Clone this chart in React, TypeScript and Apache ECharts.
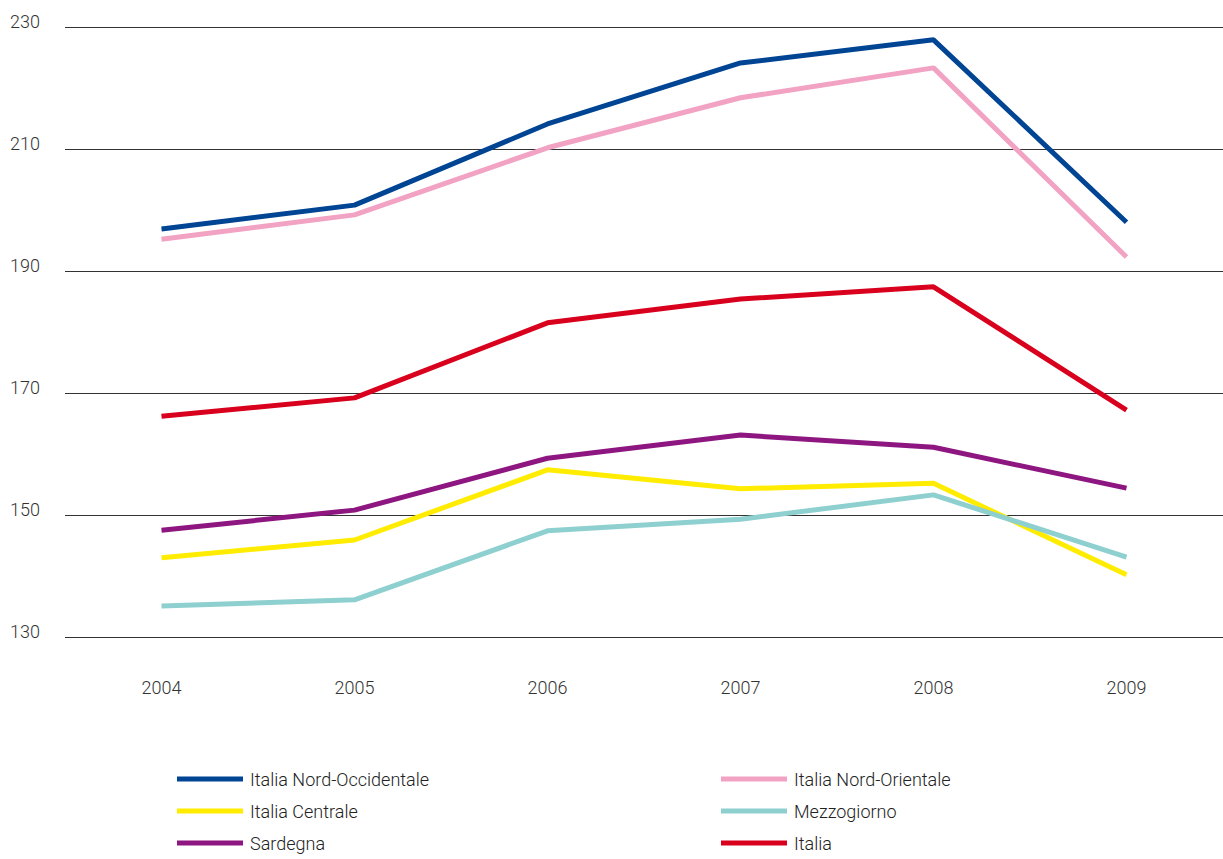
import React, { useEffect, useRef } from "react";
import * as echarts from "echarts";

const years = ["2004", "2005", "2006", "2007", "2008", "2009"];
const nordOccidentale = [196.9, 200.8, 214.1, 224.1, 227.9, 198.0];
const nordOrientale = [195.2, 199.2, 210.2, 218.4, 223.3, 192.3];
const centrale = [143.0, 145.9, 157.4, 154.3, 155.2, 140.2];
const mezzogiorno = [135.1, 136.1, 147.4, 149.3, 153.3, 143.1];
const sardegna = [147.5, 150.8, 159.3, 163.1, 161.1, 154.4];
const italia = [166.2, 169.2, 181.5, 185.4, 187.4, 167.2];

const seriesDefs = [
  { name: "Italia Nord-Occidentale", data: nordOccidentale, color: "#004494" },
  { name: "Italia Nord-Orientale", data: nordOrientale, color: "#f2a2c2" },
  { name: "Italia Centrale", data: centrale, color: "#ffec00" },
  { name: "Mezzogiorno", data: mezzogiorno, color: "#8ecfcf" },
  { name: "Sardegna", data: sardegna, color: "#8e1680" },
  { name: "Italia", data: italia, color: "#d8001d" },
];

const FONT = "Roboto, 'Open Sans', sans-serif";

export default function App() {
  const ref = useRef<HTMLDivElement>(null);
  useEffect(() => {
    if (!ref.current) return;
    const chart = echarts.init(ref.current, undefined, { renderer: "svg" });
    const legendCommon = {
      orient: "vertical" as const,
      icon: "rect",
      itemWidth: 66,
      itemHeight: 5,
      itemGap: 12,
      padding: 0,
      height: 90,
      textStyle: { fontFamily: FONT, fontSize: 18, fontWeight: 300, color: "#222", lineHeight: 20, padding: [0, 0, 0, 2] },
    };
    chart.setOption({
      animation: false,
      backgroundColor: "#fff",
      grid: { left: 65, right: 0, top: 27, bottom: 222, containLabel: false },
      legend: [
        { ...legendCommon, left: 177, top: 769, data: ["Italia Nord-Occidentale", "Italia Centrale", "Sardegna"] },
        { ...legendCommon, left: 721, top: 769, data: ["Italia Nord-Orientale", "Mezzogiorno", "Italia"] },
      ],
      xAxis: {
        type: "category",
        data: years,
        boundaryGap: true,
        axisLine: { show: false },
        axisTick: { show: false },
        axisLabel: { fontFamily: FONT, fontSize: 18, fontWeight: 300, color: "#333", margin: 41 },
      },
      yAxis: {
        type: "value",
        min: 130,
        max: 230,
        interval: 20,
        axisLine: { show: false },
        axisTick: { show: false },
        splitLine: { lineStyle: { color: "#333", width: 1 } },
        axisLabel: {
          fontFamily: FONT,
          fontSize: 18,
          fontWeight: 300,
          color: "#333",
          align: "left",
          margin: 55,
          verticalAlign: "bottom",
          padding: [0, 0, -3, 0],
        },
      },
      series: seriesDefs.map((s) => ({
        name: s.name,
        type: "line",
        data: s.data,
        symbol: "none",
        color: s.color,
        lineStyle: { color: s.color, width: 5 },
        itemStyle: { color: s.color },
      })),
    });
    return () => chart.dispose();
  }, []);
  return (
    <div
      ref={ref}
      style={{ position: "fixed", left: 0, top: 0, width: 1223, height: 859, background: "#fff" }}
    />
  );
}
